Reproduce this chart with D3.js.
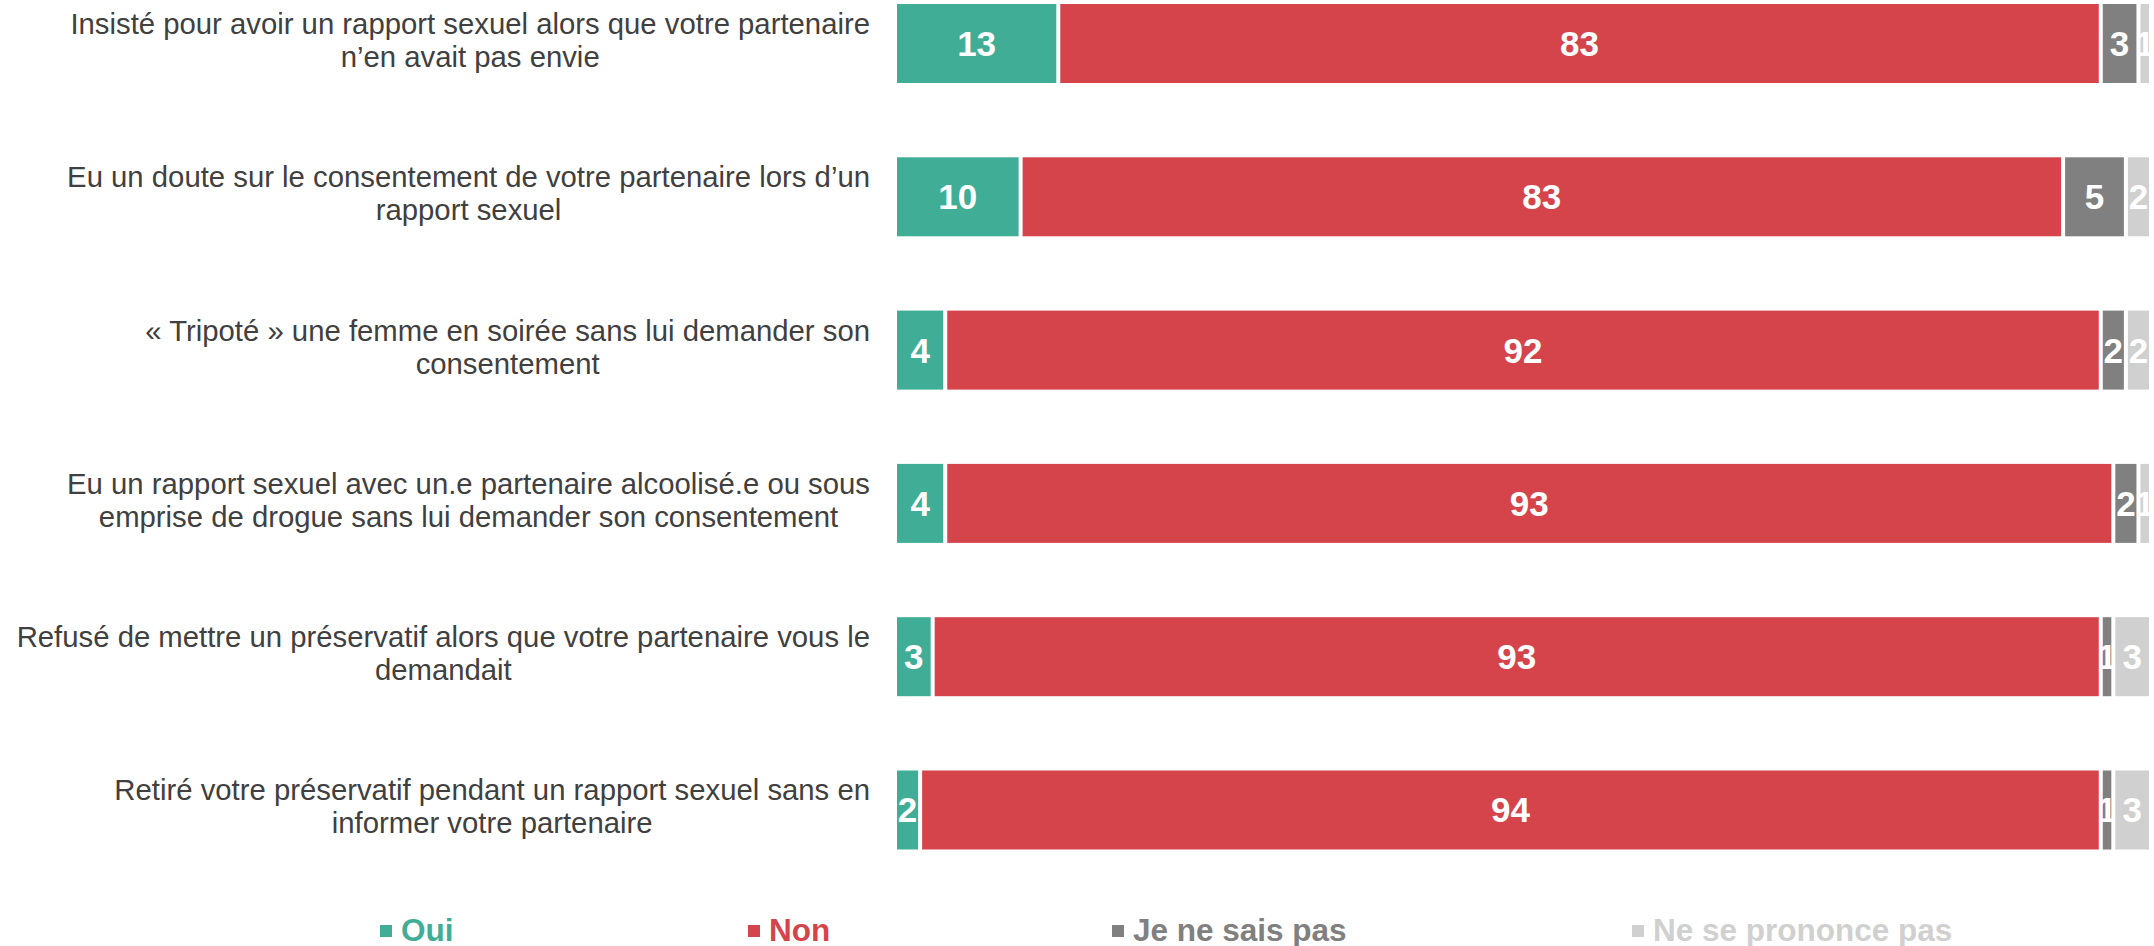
<!DOCTYPE html>
<html>
<head>
<meta charset="utf-8">
<script src="https://cdn.jsdelivr.net/npm/d3@7"></script>
<style>
  html, body { margin: 0; padding: 0; background: #fff; }
  svg { display: block; font-family: "Liberation Sans", Arial, sans-serif; }
</style>
</head>
<body>
<svg id="chart" width="2154" height="946"></svg>
<script>
const categories = [
  ["Insisté pour avoir un rapport sexuel alors que votre partenaire", "n’en avait pas envie"],
  ["Eu un doute sur le consentement de votre partenaire lors d’un", "rapport sexuel"],
  ["« Tripoté » une femme en soirée sans lui demander son", "consentement"],
  ["Eu un rapport sexuel avec un.e partenaire alcoolisé.e ou sous", "emprise de drogue sans lui demander son consentement"],
  ["Refusé de mettre un préservatif alors que votre partenaire vous le", "demandait"],
  ["Retiré votre préservatif pendant un rapport sexuel sans en", "informer votre partenaire"]
];
const seriesNames = ["Oui", "Non", "Je ne sais pas", "Ne se prononce pas"];
const oui = [13, 10, 4, 4, 3, 2];
const non = [83, 83, 92, 93, 93, 94];
const nsp = [3, 5, 2, 2, 1, 1];
const nspp = [1, 2, 2, 1, 3, 3];
const colors = ["#40AE96", "#D6444B", "#808080", "#D0D0D0"];

const svg = d3.select("#chart");
const series = [oui, non, nsp, nspp];
const rows = categories.map((c, i) => ({ key: i, vals: series.map(s => s[i]) }));

const x = d3.scaleLinear().domain([0, 100]).range([895, 2151]);
const y = d3.scaleBand().domain(d3.range(categories.length)).range([-68.3, 921.8]).paddingInner(0.4586).paddingOuter(0.4586);

const gap = 2;
rows.forEach(r => {
  let cum = 0;
  const g = svg.append("g");
  r.vals.forEach((v, j) => {
    const x0 = x(cum), x1 = x(cum + v);
    cum += v;
    g.append("rect")
      .attr("x", x0 + gap).attr("width", Math.max(0, x1 - x0 - 2 * gap))
      .attr("y", y(r.key) + gap).attr("height", y.bandwidth() - 2 * gap)
      .attr("fill", colors[j]);
    g.append("text")
      .attr("x", (x0 + x1) / 2)
      .attr("y", y(r.key) + y.bandwidth() / 2 + 12.5)
      .attr("text-anchor", "middle")
      .attr("fill", "#fff")
      .attr("font-weight", "bold")
      .attr("font-size", 35)
      .text(v);
  });
});

// category labels: block right aligned at 870, lines centered
const labelRight = 870;
categories.forEach((lines, i) => {
  const cy = y(i) + y.bandwidth() / 2;
  const g = svg.append("g");
  const texts = lines.map((l, k) => g.append("text")
    .attr("y", cy - 9.5 + k * 33)
    .attr("font-size", 29.3)
    .attr("fill", "#404040")
    .attr("text-anchor", "middle")
    .text(l));
  const w = d3.max(texts, t => t.node().getComputedTextLength());
  texts.forEach(t => t.attr("x", labelRight - w / 2));
});

// legend
const legendX = [380, 748, 1112, 1632];
const legend = svg.append("g");
seriesNames.forEach((name, j) => {
  const lx = legendX[j];
  legend.append("rect").attr("x", lx).attr("y", 925).attr("width", 12).attr("height", 12).attr("fill", colors[j]);
  legend.append("text")
    .attr("x", lx + 21).attr("y", 941)
    .attr("font-size", 31.5).attr("font-weight", "bold")
    .attr("fill", colors[j]).text(name);
});
</script>
</body>
</html>
